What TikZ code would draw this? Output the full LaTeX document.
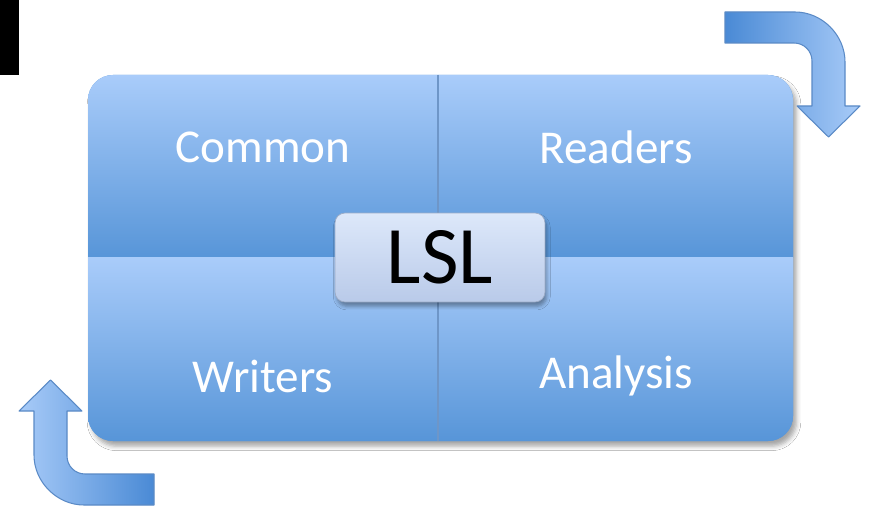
\documentclass[tikz,border=0pt]{standalone}
\usepackage{fontspec}
\setmainfont{Carlito}
\usetikzlibrary{shadows.blur}

\definecolor{quadtop}{HTML}{A9CCFA}
\definecolor{quadbot}{HTML}{5795D8}
\definecolor{hubtop}{HTML}{DDE8FA}
\definecolor{hubbot}{HTML}{B9CAE9}
\definecolor{arrowdark}{HTML}{4A8AD5}
\definecolor{arrowlight}{HTML}{A8CBF8}
\definecolor{arrowline}{HTML}{5A8AC6}
\definecolor{divider}{HTML}{6E96C8}

\tikzset{
    quad/.style={top color=quadtop, bottom color=quadbot},
    quadlabel/.style={text=white, font=\fontsize{26.8}{30}\selectfont},
    hub/.style={rounded corners=0.2cm, top color=hubtop, bottom color=hubbot,
        draw=hubbot!85!black, line width=0.4pt, minimum width=4.2cm, minimum height=1.78cm,
        font=\fontsize{46.5}{50}\selectfont,
        blur shadow={shadow xshift=1pt, shadow yshift=-2.5pt, shadow blur radius=2pt, shadow opacity=35}},
    bent/.style={draw=arrowline, line width=0.6pt, line join=round}
}

% outline of the bent arrow (top right one)
\newcommand\bentarrow{(725,12) -- (795,12) .. controls (822,12) and (845,35) .. (845,62) -- (845,106) -- (860,106) -- (828.5,137) -- (797,106) -- (812,106) -- (812,61) .. controls (812,51) and (804,43) .. (794,43) -- (725,43) -- cycle}

\begin{document}
\begin{tikzpicture}[x=0.02cm, y=-0.02cm]
    \fill[white] (0,0) rectangle (871,506);
    \useasboundingbox (0,0) rectangle (871,506);
    \fill (0,0) rectangle (19,75);
    % panel with its shadow
    \fill[quadbot, rounded corners=0.5cm, blur shadow={shadow xshift=2pt, shadow yshift=-3pt, shadow blur radius=2.5pt, shadow opacity=35}] (88,75) rectangle (793,441);
    \begin{scope}
        \clip[rounded corners=0.5cm] (88,75) rectangle (793,441);
        \shade[quad] (88,75) rectangle (438,258);
        \shade[quad] (438,75) rectangle (793,258);
        \shade[quad] (88,258) rectangle (438,441);
        \shade[quad] (438,258) rectangle (793,441);
    \end{scope}
    \draw[divider, line width=0.6pt] (438,75) -- (438,441);

    \node[quadlabel] (common) at (263,147) {Common};
    \node[quadlabel] (readers) at (616,147) {Readers};
    \node[quadlabel] (writers) at (263,376) {Writers};
    \node[quadlabel] (analysis) at (616,376) {Analysis};

    \node[hub] (lsl) at (440,257.5) {LSL};

    % the two bent arrows, the second turned half round the panel centre
    \coordinate (pivot) at (439.5,258.5);
    \shade[bent, left color=arrowdark, right color=arrowlight] \bentarrow;
    \shade[bent, left color=arrowlight, right color=arrowdark, rotate around={180:(pivot)}] \bentarrow;
\end{tikzpicture}
\end{document}
